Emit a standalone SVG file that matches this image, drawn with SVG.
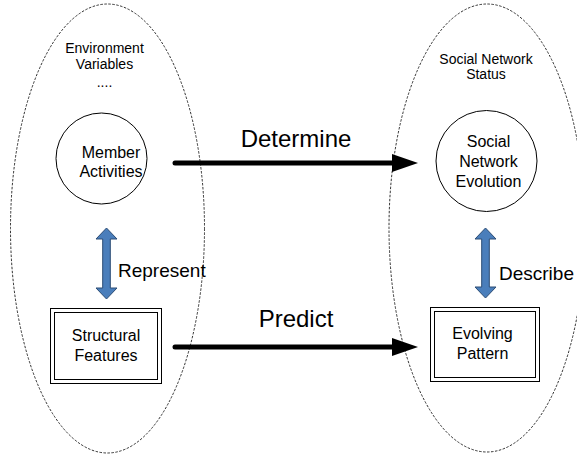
<svg xmlns="http://www.w3.org/2000/svg" width="577" height="457" viewBox="0 0 577 457">
  <defs>
    <marker id="head" markerUnits="userSpaceOnUse" markerWidth="26" markerHeight="18" refX="0" refY="9" orient="auto" overflow="visible">
      <path d="M0,0 L26,9 L0,18 Z" fill="#000"/>
    </marker>
  </defs>
  <style>
    text { font-family: "Liberation Sans", Arial, sans-serif; fill: #000; text-anchor: middle; }
    .zone { fill: none; stroke: #000; stroke-width: 0.8; stroke-dasharray: 2.5 1.5; }
    .node { fill: #fff; stroke: #000; stroke-width: 1; }
    .lbl { font-size: 14px; }
    .nt { font-size: 16px; }
    .verb { font-size: 24px; }
    .side { font-size: 19px; text-anchor: start; }
    .flow { stroke: #000; stroke-width: 5; stroke-linecap: round; fill: none; }
    .dbl { fill: #4a7ebb; stroke: #2c4d75; stroke-width: 1; }
  </style>

  <rect width="577" height="457" fill="#fff"/>

  <!-- dashed domain outlines -->
  <g id="env-zone">
    <ellipse class="zone" cx="107.5" cy="228.5" rx="97" ry="224.5"/>
    <text class="lbl" x="104.5" y="53">Environment</text>
    <text class="lbl" x="104.5" y="69">Variables</text>
    <text class="lbl" x="104.5" y="87">....</text>
  </g>
  <g id="status-zone">
    <ellipse class="zone" cx="487" cy="228" rx="98" ry="224"/>
    <text class="lbl" x="486" y="64">Social Network</text>
    <text class="lbl" x="486" y="79">Status</text>
  </g>

  <!-- connectors -->
  <g id="connectors">
    <line class="flow" x1="175" y1="163" x2="392" y2="163" marker-end="url(#head)"/>
    <line class="flow" x1="175" y1="347" x2="392" y2="347" marker-end="url(#head)"/>
    <path class="dbl" d="M106.5,228 L117,239 L110.3,239 L110.3,288 L117,288 L106.5,299 L96,288 L102.7,288 L102.7,239 L96,239 Z"/>
    <path class="dbl" d="M485.5,228 L496,239 L489.3,239 L489.3,287 L496,287 L485.5,298 L475,287 L481.7,287 L481.7,239 L475,239 Z"/>
    <text class="verb" x="296" y="147">Determine</text>
    <text class="verb" x="296" y="327">Predict</text>
    <text class="side" x="118" y="276.5">Represent</text>
    <text class="side" x="499" y="280">Describe</text>
  </g>

  <!-- nodes -->
  <g id="member-activities">
    <circle class="node" cx="101.5" cy="158.5" r="45.5"/>
    <text class="nt" x="111" y="157.5">Member</text>
    <text class="nt" x="111" y="177">Activities</text>
  </g>
  <g id="network-evolution">
    <circle class="node" cx="486.5" cy="161" r="50.5"/>
    <text class="nt" x="488.5" y="147">Social</text>
    <text class="nt" x="488.5" y="167">Network</text>
    <text class="nt" x="488.5" y="187">Evolution</text>
  </g>
  <g id="structural-features">
    <rect class="node" x="50.5" y="308.5" width="111" height="75"/>
    <rect class="node" x="54.5" y="312.5" width="103" height="67"/>
    <text class="nt" x="106" y="341">Structural</text>
    <text class="nt" x="106" y="361">Features</text>
  </g>
  <g id="evolving-pattern">
    <rect class="node" x="430.5" y="307.5" width="109" height="74"/>
    <rect class="node" x="434.5" y="311.5" width="101" height="66"/>
    <text class="nt" x="482.5" y="339">Evolving</text>
    <text class="nt" x="482.5" y="359">Pattern</text>
  </g>
</svg>
